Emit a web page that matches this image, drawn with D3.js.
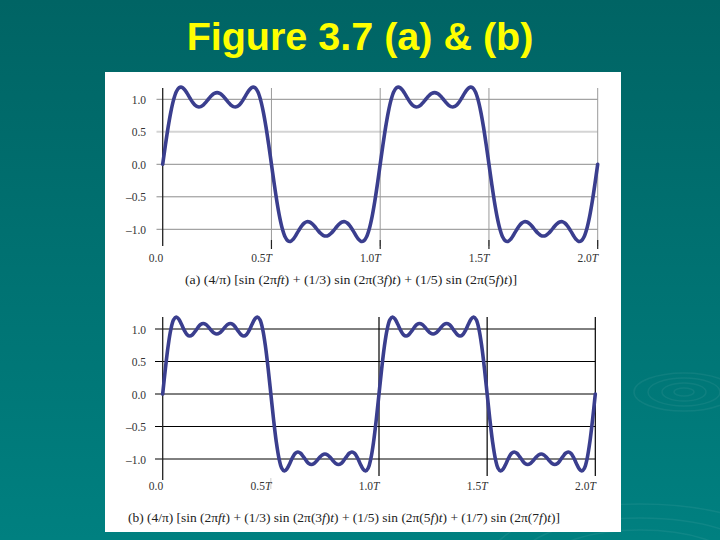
<!DOCTYPE html>
<html>
<head>
<meta charset="utf-8">
<script src="https://cdn.jsdelivr.net/npm/d3@7"></script>
<style>
  html, body { margin: 0; padding: 0; background: #006666; }
  svg { display: block; }
</style>
</head>
<body>
<svg id="chart" width="720" height="540"></svg>
<script>
// ---------- data ----------
const titleText = "Figure 3.7 (a) & (b)";
const timeStepT = 0.0125;           // sample spacing, in periods T
const xTickValues = [0, 0.5, 1.0, 1.5, 2.0];
const xTickLabels = ["0.0", "0.5", "1.0", "1.5", "2.0"];
const yTickValues = [1.0, 0.5, 0.0, -0.5, -1.0];
const yTickLabels = ["1.0", "0.5", "0.0", "\u20130.5", "\u20131.0"];

// (a) sum of 1st, 3rd, 5th harmonics, sampled every 0.0125 T from 0 to 2T
const waveA = [
  0, 0.296, 0.572, 0.808, 0.991, 1.115, 1.177, 1.186, 1.152, 1.091, 1.020, 0.955, 0.907, 0.884, 0.888, 0.916, 0.961, 1.013, 1.059, 1.092, 1.103,
  1.092, 1.059, 1.013, 0.961, 0.916, 0.888, 0.884, 0.907, 0.955, 1.020, 1.091, 1.152, 1.186, 1.177, 1.115, 0.991, 0.808, 0.572, 0.296, 0,
  -0.296, -0.572, -0.808, -0.991, -1.115, -1.177, -1.186, -1.152, -1.091, -1.020, -0.955, -0.907, -0.884, -0.888, -0.916, -0.961, -1.013, -1.059, -1.092, -1.103,
  -1.092, -1.059, -1.013, -0.961, -0.916, -0.888, -0.884, -0.907, -0.955, -1.020, -1.091, -1.152, -1.186, -1.177, -1.115, -0.991, -0.808, -0.572, -0.296, 0,
  0.296, 0.572, 0.808, 0.991, 1.115, 1.177, 1.186, 1.152, 1.091, 1.020, 0.955, 0.907, 0.884, 0.888, 0.916, 0.961, 1.013, 1.059, 1.092, 1.103,
  1.092, 1.059, 1.013, 0.961, 0.916, 0.888, 0.884, 0.907, 0.955, 1.020, 1.091, 1.152, 1.186, 1.177, 1.115, 0.991, 0.808, 0.572, 0.296, 0,
  -0.296, -0.572, -0.808, -0.991, -1.115, -1.177, -1.186, -1.152, -1.091, -1.020, -0.955, -0.907, -0.884, -0.888, -0.916, -0.961, -1.013, -1.059, -1.092, -1.103,
  -1.092, -1.059, -1.013, -0.961, -0.916, -0.888, -0.884, -0.907, -0.955, -1.020, -1.091, -1.152, -1.186, -1.177, -1.115, -0.991, -0.808, -0.572, -0.296, 0
];

// (b) sum of 1st, 3rd, 5th, 7th harmonics, sampled every 0.0125 T from 0 to 2T
const waveB = [
  0, 0.391, 0.734, 0.989, 1.139, 1.184, 1.149, 1.068, 0.979, 0.914, 0.892, 0.912, 0.963, 1.022, 1.068, 1.084, 1.068, 1.027, 0.977, 0.937, 0.922,
  0.937, 0.977, 1.027, 1.068, 1.084, 1.068, 1.022, 0.963, 0.912, 0.892, 0.914, 0.979, 1.068, 1.149, 1.184, 1.139, 0.989, 0.734, 0.391, 0,
  -0.391, -0.734, -0.989, -1.139, -1.184, -1.149, -1.068, -0.979, -0.914, -0.892, -0.912, -0.963, -1.022, -1.068, -1.084, -1.068, -1.027, -0.977, -0.937, -0.922,
  -0.937, -0.977, -1.027, -1.068, -1.084, -1.068, -1.022, -0.963, -0.912, -0.892, -0.914, -0.979, -1.068, -1.149, -1.184, -1.139, -0.989, -0.734, -0.391, 0,
  0.391, 0.734, 0.989, 1.139, 1.184, 1.149, 1.068, 0.979, 0.914, 0.892, 0.912, 0.963, 1.022, 1.068, 1.084, 1.068, 1.027, 0.977, 0.937, 0.922,
  0.937, 0.977, 1.027, 1.068, 1.084, 1.068, 1.022, 0.963, 0.912, 0.892, 0.914, 0.979, 1.068, 1.149, 1.184, 1.139, 0.989, 0.734, 0.391, 0,
  -0.391, -0.734, -0.989, -1.139, -1.184, -1.149, -1.068, -0.979, -0.914, -0.892, -0.912, -0.963, -1.022, -1.068, -1.084, -1.068, -1.027, -0.977, -0.937, -0.922,
  -0.937, -0.977, -1.027, -1.068, -1.084, -1.068, -1.022, -0.963, -0.912, -0.892, -0.914, -0.979, -1.068, -1.149, -1.184, -1.139, -0.989, -0.734, -0.391, 0
];

// caption segments: [text, italic?]
const captionA = [["(a) (4/\u03c0) [sin (2\u03c0", false], ["ft", true], [") + (1/3) sin (2\u03c0(3", false], ["f", true], [")", false], ["t", true],
  [") + (1/5) sin (2\u03c0(5", false], ["f", true], [")", false], ["t", true], [")]", false]];
const captionB = [["(b) (4/\u03c0) [sin (2\u03c0", false], ["ft", true], [") + (1/3) sin (2\u03c0(3", false], ["f", true], [")", false], ["t", true],
  [") + (1/5) sin (2\u03c0(5", false], ["f", true], [")", false], ["t", true],
  [") + (1/7) sin (2\u03c0(7", false], ["f", true], [")", false], ["t", true], [")]", false]];

// ---------- drawing ----------
const svg = d3.select("#chart");
const defs = svg.append("defs");
const grad = defs.append("linearGradient").attr("id", "bg").attr("x1", 0).attr("y1", 0).attr("x2", 0).attr("y2", 1);
grad.append("stop").attr("offset", "0%").attr("stop-color", "#006464");
grad.append("stop").attr("offset", "100%").attr("stop-color", "#008080");
svg.append("rect").attr("width", 720).attr("height", 540).attr("fill", "url(#bg)");

// faint ripple decoration
const rip = svg.append("g").attr("fill", "none").attr("stroke", "rgba(255,255,255,0.06)").attr("stroke-width", 1.5);
[[10, 4], [22, 9], [36, 14], [50, 19]].forEach(([rx, ry]) => rip.append("ellipse").attr("cx", 684).attr("cy", 392).attr("rx", rx).attr("ry", ry));
[[90, 30], [120, 42], [150, 56]].forEach(([rx, ry]) => rip.append("ellipse").attr("cx", 640).attr("cy", 560).attr("rx", rx).attr("ry", ry));

svg.append("text").attr("x", 360).attr("y", 50).attr("text-anchor", "middle")
  .attr("font-family", "Liberation Sans, Arial, sans-serif").attr("font-weight", "bold")
  .attr("font-size", 39.5).attr("fill", "#ffff00").text(titleText);

svg.append("rect").attr("x", 105).attr("y", 72).attr("width", 516).attr("height", 460).attr("fill", "#ffffff");

const sampleTimes = waveA.map((_, i) => i * timeStepT);

function panel(cfg) {
  const g = svg.append("g");
  const x = d3.scaleLinear().domain([0, 2]).range([cfg.x0, cfg.x1]);
  const y = d3.scaleLinear().domain([-1, 1]).range([cfg.yBottom, cfg.yTop]);
  const serif = "Liberation Serif, Times New Roman, serif";

  // horizontal grid lines
  yTickValues.forEach(v => {
    const light = cfg.style === "a" && v === 0.5;
    g.append("line").attr("x1", cfg.gridLeft).attr("x2", x(2)).attr("y1", y(v)).attr("y2", y(v))
      .attr("stroke", light ? "#d4d4d4" : cfg.gridColor).attr("stroke-width", light ? 2 : 1);
  });
  // vertical grid lines + ticks
  xTickValues.slice(1).forEach(v => {
    if (cfg.style === "a") {
      g.append("line").attr("x1", x(v)).attr("x2", x(v)).attr("y1", cfg.axisTop).attr("y2", cfg.axisBottom)
        .attr("stroke", "#9a9a9a").attr("stroke-width", 1);
      g.append("line").attr("x1", x(v)).attr("x2", x(v)).attr("y1", cfg.axisBottom - 6).attr("y2", cfg.axisBottom + 3)
        .attr("stroke", "#222").attr("stroke-width", 1.2);
    } else if (v === 0.5) {
      g.append("line").attr("x1", x(v)).attr("x2", x(v)).attr("y1", cfg.axisBottom - 2).attr("y2", cfg.axisBottom + 9)
        .attr("stroke", "#cfcfcf").attr("stroke-width", 1);
    } else {
      g.append("line").attr("x1", x(v)).attr("x2", x(v)).attr("y1", cfg.axisTop).attr("y2", cfg.axisBottom - 4)
        .attr("stroke", "#000").attr("stroke-width", 1.2);
    }
  });
  // y axis line
  g.append("line").attr("x1", x(0)).attr("x2", x(0)).attr("y1", cfg.axisTop).attr("y2", cfg.axisBottom)
    .attr("stroke", "#222").attr("stroke-width", 1.3);

  // y labels via d3 axis
  const yAxis = d3.axisLeft(y).tickValues(yTickValues).tickSize(0).tickPadding(0)
    .tickFormat((d, i) => yTickLabels[i]);
  const ya = g.append("g").attr("transform", `translate(${cfg.yLabelX},0)`).call(yAxis);
  ya.select(".domain").remove();
  ya.selectAll("text").attr("font-family", serif).attr("font-size", 11.5).attr("fill", "#333").attr("dy", "0.35em");

  // x labels
  xTickValues.forEach((v, i) => {
    const t = g.append("text").attr("x", x(v) + cfg.xLabelShift).attr("y", cfg.xLabelY).attr("text-anchor", "end")
      .attr("font-family", serif).attr("font-size", 11.5).attr("fill", "#333");
    t.append("tspan").text(xTickLabels[i]);
    if (i > 0) t.append("tspan").attr("font-style", "italic").text("T");
  });

  // curve
  const line = d3.line().x((d, i) => x(sampleTimes[i])).y(d => y(d)).curve(d3.curveCatmullRom.alpha(0.5));
  g.append("path").datum(cfg.data).attr("d", line).attr("fill", "none")
    .attr("stroke", "#3a3e8e").attr("stroke-width", 3.6).attr("stroke-linejoin", "round").attr("stroke-linecap", "round");

  // caption
  const c = g.append("text").attr("x", cfg.capX).attr("y", cfg.capY)
    .attr("font-family", serif).attr("font-size", 12).attr("fill", "#222")
    .attr("textLength", cfg.capW).attr("lengthAdjust", "spacingAndGlyphs");
  cfg.caption.forEach(([s, it]) => {
    const ts = c.append("tspan").text(s);
    if (it) ts.attr("font-style", "italic");
  });
}

panel({ style: "a", data: waveA, x0: 162.7, x1: 597.7, yTop: 99.3, yBottom: 229.3, axisTop: 88, axisBottom: 246,
  gridLeft: 156.5, gridColor: "#8c8c8c", yLabelX: 146, xLabelY: 262, xLabelShift: 0.5,
  caption: captionA, capX: 185, capY: 284, capW: 332 });
panel({ style: "b", data: waveB, x0: 162.7, x1: 595.3, yTop: 329, yBottom: 459, axisTop: 317, axisBottom: 480,
  gridLeft: 155, gridColor: "#000", yLabelX: 146, xLabelY: 490, xLabelShift: 0.5,
  caption: captionB, capX: 128, capY: 522, capW: 432 });
</script>
</body>
</html>
